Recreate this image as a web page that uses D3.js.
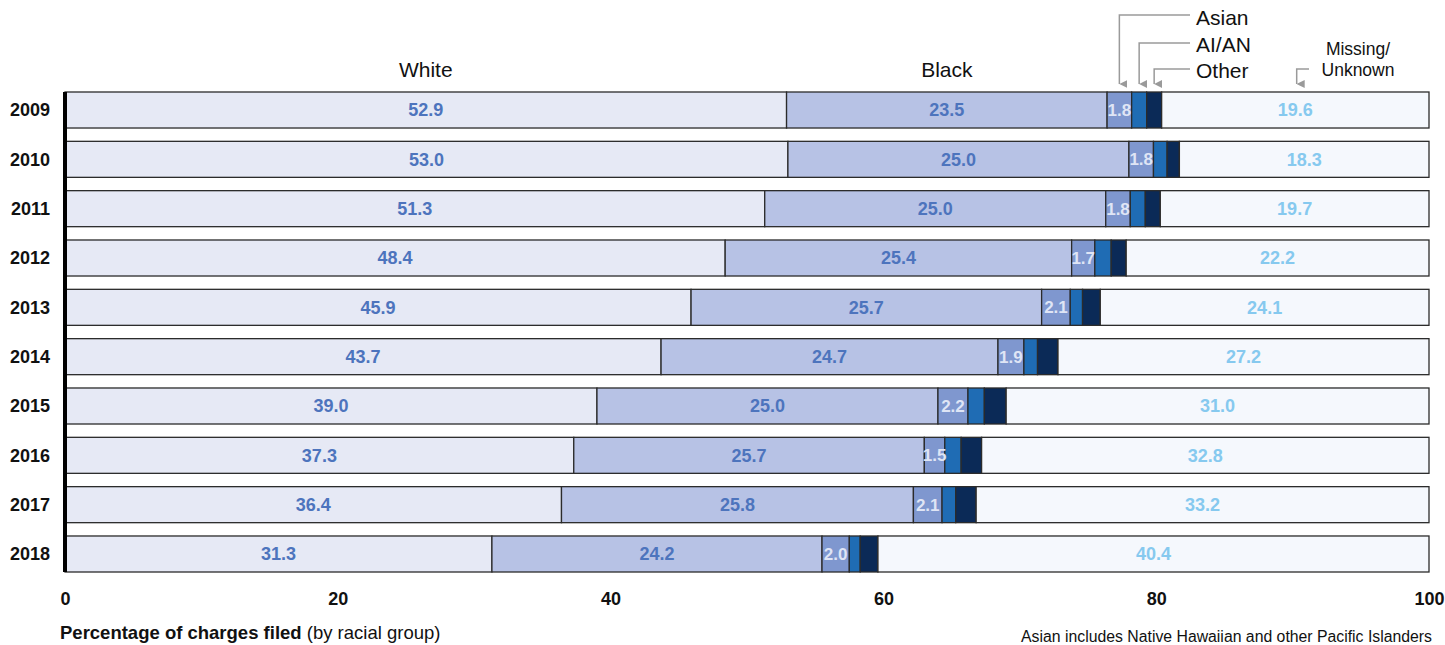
<!DOCTYPE html>
<html><head><meta charset="utf-8">
<script src="https://cdn.jsdelivr.net/npm/d3@7/dist/d3.min.js"></script>
<style>body{margin:0;background:#fff;font-family:"Liberation Sans",Arial,sans-serif}</style>
</head><body><svg id="c" width="1445" height="645"></svg>
<script>
const years = ["2009","2010","2011","2012","2013","2014","2015","2016","2017","2018"];
const groups = ["White","Black","Asian","AI/AN","Other","Missing/Unknown"];
const white   = [52.9,53.0,51.3,48.4,45.9,43.7,39.0,37.3,36.4,31.3];
const black   = [23.5,25.0,25.0,25.4,25.7,24.7,25.0,25.7,25.8,24.2];
const asian   = [1.8,1.8,1.8,1.7,2.1,1.9,2.2,1.5,2.1,2.0];
const aian    = [1.1,1.0,1.1,1.2,0.9,1.0,1.2,1.2,1.0,0.8];
const other   = [1.1,0.9,1.1,1.1,1.3,1.5,1.6,1.5,1.5,1.3];
const missing = [19.6,18.3,19.7,22.2,24.1,27.2,31.0,32.8,33.2,40.4];
const xTicks = [0,20,40,60,80,100];

const colors = ["#e6e9f5","#b7c2e5","#7f97cf","#1f6cb4","#0b2a57","#f5f8fd"];
const labelColors = ["#4d74bd","#4d74bd","#dfe5f5",null,null,"#86c9ef"];
const series = [white,black,asian,aian,other,missing];
const showLabel = [true,true,true,false,false,true];

const svg = d3.select("#c");
const x = d3.scaleLinear().domain([0,100]).range([65,1429]);
const y = d3.scaleBand().domain(years).range([92,572]).paddingInner(0.27).paddingOuter(0);

const rows = years.map((yr,i)=>{
  let c=0; return series.map((s,k)=>{const v=s[i]; const o={yr,k,v,x0:c,x1:c+v}; c+=v; return o;});
});

const g = svg.append("g");
rows.forEach(r=>{
  g.selectAll(null).data(r).enter().append("rect")
    .attr("x",d=>x(d.x0)).attr("y",d=>y(d.yr))
    .attr("width",d=>x(d.x1)-x(d.x0)).attr("height",y.bandwidth())
    .attr("fill",d=>colors[d.k]).attr("stroke","#2b2b2b").attr("stroke-width",1.3);
  g.selectAll(null).data(r.filter(d=>showLabel[d.k])).enter().append("text")
    .attr("x",d=>x((d.x0+d.x1)/2)).attr("y",d=>y(d.yr)+y.bandwidth()/2)
    .attr("dy","0.36em").attr("text-anchor","middle")
    .attr("font-size",d=>d.k===2?17:18).attr("font-weight","bold")
    .attr("fill",d=>labelColors[d.k]).text(d=>d.v.toFixed(1));
});

// left axis line
svg.append("line").attr("x1",65).attr("x2",65).attr("y1",92).attr("y2",572)
  .attr("stroke","#000").attr("stroke-width",4);

// year labels
svg.selectAll(null).data(years).enter().append("text")
  .attr("x",50).attr("y",d=>y(d)+y.bandwidth()/2).attr("dy","0.36em")
  .attr("text-anchor","end").attr("font-size",18).attr("font-weight","bold").attr("fill","#111").text(d=>d);

// x axis ticks
const xAxis = d3.axisBottom(x).tickValues(xTicks).tickSize(0).tickPadding(0).tickFormat(d3.format("d"));
const ax = svg.append("g").attr("transform","translate(0,592)").call(xAxis);
ax.select(".domain").remove();
ax.selectAll("text").attr("font-size",18).attr("font-weight","bold").attr("fill","#111")
  .attr("font-family","Liberation Sans, Arial, sans-serif").attr("dy","0.71em");

// axis title
const t = svg.append("text").attr("x",60).attr("y",639).attr("font-size",18.5).attr("fill","#111");
t.append("tspan").attr("font-weight","bold").text("Percentage of charges filed");
t.append("tspan").text(" (by racial group)");

svg.append("text").attr("x",1432).attr("y",642).attr("text-anchor","end")
  .attr("font-size",15.8).attr("fill","#111").text("Asian includes Native Hawaiian and other Pacific Islanders");

// header labels
const r0 = rows[0];
svg.append("text").attr("x",x((r0[0].x0+r0[0].x1)/2)).attr("y",77).attr("text-anchor","middle")
  .attr("font-size",21).attr("fill","#111").text("White");
svg.append("text").attr("x",x((r0[1].x0+r0[1].x1)/2)).attr("y",77).attr("text-anchor","middle")
  .attr("font-size",21).attr("fill","#111").text("Black");

// legend callouts
const defs = svg.append("defs");
defs.append("marker").attr("id","ah").attr("viewBox","0 0 10 10").attr("refX",5).attr("refY",10)
  .attr("markerWidth",8).attr("markerHeight",8).attr("orient","auto-start-reverse").attr("markerUnits","userSpaceOnUse")
  .append("path").attr("d","M0,0 L10,0 L5,10 Z").attr("fill","#9a9a9a");
const callouts = [
  {k:2, name:"Asian", ly:15, ty:24},
  {k:3, name:"AI/AN", ly:43, ty:51},
  {k:4, name:"Other", ly:69, ty:77}
];
callouts.forEach(c=>{
  const cx = x((r0[c.k].x0+r0[c.k].x1)/2);
  svg.append("path").attr("d",`M1190,${c.ly} H${cx} V84`).attr("fill","none")
    .attr("stroke","#9a9a9a").attr("stroke-width",1.5).attr("marker-end","url(#ah)");
  svg.append("text").attr("x",1196).attr("y",c.ty+1).attr("font-size",21).attr("fill","#111").text(c.name);
});
const mx = x(90.3);
svg.append("path").attr("d",`M1309,69 H${mx} V84`).attr("fill","none")
  .attr("stroke","#9a9a9a").attr("stroke-width",1.5).attr("marker-end","url(#ah)");
svg.append("text").attr("x",1358).attr("y",55).attr("text-anchor","middle").attr("font-size",17.5).attr("fill","#111").text("Missing/");
svg.append("text").attr("x",1358).attr("y",76).attr("text-anchor","middle").attr("font-size",17.5).attr("fill","#111").text("Unknown");
</script></body></html>
